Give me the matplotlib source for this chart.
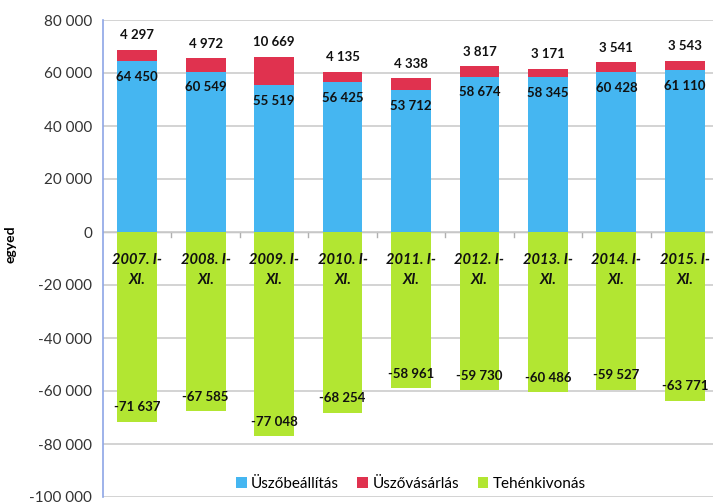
import numpy as np
import matplotlib.pyplot as plt
from matplotlib.ticker import FuncFormatter

plt.rcParams['font.family'] = ['Lato', 'DejaVu Sans']

# data
years = ["2007", "2008", "2009", "2010", "2011", "2012", "2013", "2014", "2015"]
uszobeallitas = [64450, 60549, 55519, 56425, 53712, 58674, 58345, 60428, 61110]
uszovasarlas = [4297, 4972, 10669, 4135, 4338, 3817, 3171, 3541, 3543]
tehenkivonas = [-71637, -67585, -77048, -68254, -58961, -59730, -60486, -59527, -63771]

blue = "#45b6f1"
red = "#e0324f"
green = "#b2e632"

fig = plt.figure(figsize=(7.13, 5.03), dpi=100)
ax = fig.add_axes([103 / 713, 6 / 503, 616 / 713, 477 / 503])

x = np.arange(len(years))
w = 0.58
ax.bar(x, uszobeallitas, w, color=blue, label="Üszőbeállítás", zorder=2)
ax.bar(x, uszovasarlas, w, bottom=uszobeallitas, color=red, label="Üszővásárlás", zorder=2)
ax.bar(x, tehenkivonas, w, color=green, label="Tehénkivonás", zorder=2)

fmt = lambda v: f"{v:,.0f}".replace(",", " ")

for i in range(len(years)):
    b = uszobeallitas[i]
    r = uszovasarlas[i]
    t = tehenkivonas[i]
    ax.text(x[i], b - 6000, fmt(b), ha="center", va="center",
            fontsize=9.5, fontweight="bold", color="#111111", zorder=3)
    ax.text(x[i], b + r + 5500, fmt(r), ha="center", va="center",
            fontsize=9.5, fontweight="bold", color="#111111", zorder=3)
    ax.text(x[i], t + 5500, fmt(t), ha="center", va="center",
            fontsize=9.5, fontweight="bold", color="#111111", zorder=3)
    ax.text(x[i], -14300, f"{years[i]}. I-\nXI.", ha="center", va="center",
            fontsize=10.5, fontweight="bold", fontstyle="italic",
            color="#111111", linespacing=1.55, zorder=3)

ax.set_ylim(-100000, 80000)
ax.set_xlim(-0.5, len(years) - 0.5)
ax.set_yticks(np.arange(-100000, 80001, 20000))
ax.yaxis.set_major_formatter(FuncFormatter(lambda v, p: fmt(v)))
ax.tick_params(axis="y", labelsize=11, labelcolor="#333333", length=0, pad=8)
ax.set_xticks([])
ax.grid(axis="y", color="#cccccc", linewidth=1.2, zorder=0)
ax.axhline(0, color="#b0b0b0", linewidth=1, zorder=1)
for xb in np.arange(0.5, len(years) - 0.5, 1.0):
    ax.plot([xb, xb], [0, -1800], color="#b0b0b0", linewidth=1, zorder=1)

for s in ["top", "right", "bottom"]:
    ax.spines[s].set_visible(False)
ax.spines["left"].set_color("#8ea6e6")
ax.spines["left"].set_linewidth(1.2)

ax.set_ylabel("egyed", fontsize=10, fontweight="bold")
ax.yaxis.set_label_coords(-0.14, 0.53)

ax.legend(loc="center", bbox_to_anchor=(0.5, 0.027), ncol=3, frameon=False,
          fontsize=11, handlelength=0.7, handleheight=0.7, handletextpad=0.3,
          columnspacing=1.2)

fig.savefig("out.png", dpi=100)
